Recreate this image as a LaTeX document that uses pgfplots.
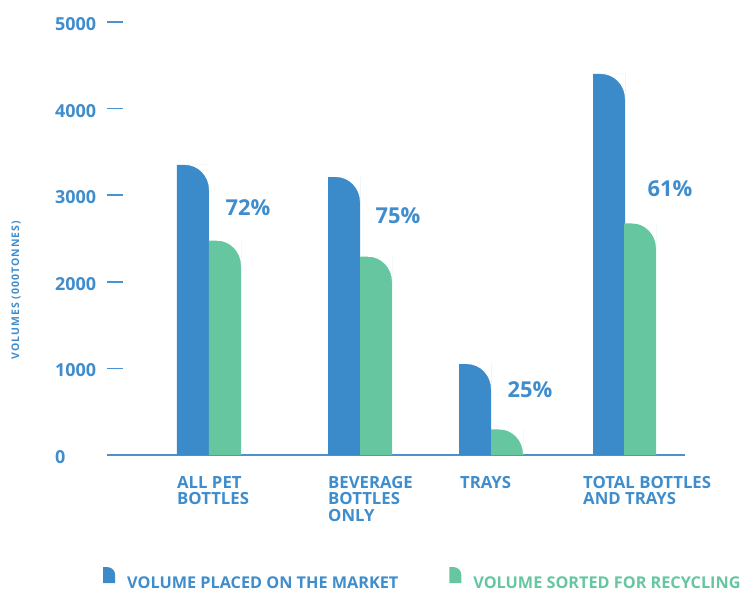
\documentclass[border=0pt]{standalone}
\usepackage{pgfplots}
\pgfplotsset{compat=1.18}
\usepackage{fontspec}
\setmainfont{Open Sans}
\definecolor{cblue}{HTML}{3B8BCA}
\definecolor{cgreen}{HTML}{66C6A0}
\definecolor{tblue}{HTML}{3F8DCC}
\definecolor{lblue}{HTML}{4A93D0}

% white mask that rounds the top-right corner of a 32bp wide bar (origin = top centre)
\pgfdeclareplotmark{cornermask}{%
  \pgfpathmoveto{\pgfpoint{-8bp}{0.6bp}}%
  \pgfpathlineto{\pgfpoint{16.4bp}{0.6bp}}%
  \pgfpathlineto{\pgfpoint{16.4bp}{-25bp}}%
  \pgfpathlineto{\pgfpoint{16bp}{-25bp}}%
  \pgfpatharc{0}{90}{24bp and 25bp}%
  \pgfpathclose
  \pgfusepathqfill
}

\begin{document}
\begin{tikzpicture}
\useasboundingbox (-107bp,-137bp) rectangle (637bp,455bp);
\begin{axis}[
  at={(0,0)}, anchor=south west,
  scale only axis, width=578bp, height=433bp,
  xmin=107, xmax=685, ymin=0, ymax=5000,
  clip=false,
  axis x line=bottom, axis y line=left,
  x axis line style={-, draw=lblue, line width=1.6bp},
  y axis line style={draw=none},
  xtick={177,328,460,583},
  xticklabels={{ALL PET\\BOTTLES},{BEVERAGE\\BOTTLES\\ONLY},{TRAYS},{TOTAL BOTTLES\\AND TRAYS}},
  xticklabel style={anchor=north west, align=left, font=\bfseries\fontsize{16.8}{16.5}\selectfont, text=tblue, inner sep=0pt, yshift=-13bp},
  x tick style={draw=none},
  ytick={0,1000,2000,3000,4000,5000},
  yticklabels={0,1000,2000,3000,4000,5000},
  ytick align=inside, major tick length=16bp,
  y tick style={draw=lblue, line width=1.6bp},
  yticklabel style={anchor=west, inner sep=0pt, xshift=-52bp, yshift=-2bp, font=\bfseries\fontsize{18}{20}\selectfont, text=tblue},
  ylabel={VOLUMES (000TONNES)},
  ylabel style={at={(axis description cs:-0.157,0.381)}, rotate=0, anchor=center, font=\bfseries\fontsize{10.5}{13}\selectfont\addfontfeatures{LetterSpace=10}, text=tblue},
  legend columns=2,
  legend style={at={(axis description cs:0,0)}, anchor=west, xshift=-7bp, yshift=-123bp, draw=none, fill=none,
    font=\bfseries\fontsize{16.3}{18}\selectfont, nodes={inner sep=0pt, text depth=0pt},
    /tikz/every odd column/.append style={column sep=12bp},
    /tikz/every even column/.append style={column sep=51bp}},
]
\addplot[ybar, bar width=32, bar shift=0pt, fill=cblue, draw=none,
  legend image code/.code={\fill[cblue] (0bp,0bp) -- (12bp,0bp) -- (12bp,8bp) arc[start angle=0,end angle=90,radius=8bp] -- (0bp,16bp) -- cycle;}]
  coordinates {(193,3350) (344,3210) (475,1050) (609,4400)};
\addlegendentry{\textcolor{tblue}{VOLUME PLACED ON THE MARKET}}
\addplot[ybar, bar width=32, bar shift=0pt, fill=cgreen, draw=none,
  legend image code/.code={\fill[cgreen] (0bp,0bp) -- (12bp,0bp) -- (12bp,8bp) arc[start angle=0,end angle=90,radius=8bp] -- (0bp,16bp) -- cycle;}]
  coordinates {(225,2475) (376,2290) (507,297) (640,2675)};
\addlegendentry{\textcolor{cgreen}{VOLUME SORTED FOR RECYCLING}}
\addplot[only marks, mark=cornermask, mark options={fill=white, draw=none}, forget plot]
  coordinates {(193,3350) (344,3210) (475,1050) (609,4400)};
\addplot[only marks, mark=cornermask, mark options={fill=white, draw=none}, forget plot]
  coordinates {(225,2475) (376,2290) (507,297) (640,2675)};
\node[text=tblue, font=\bfseries\fontsize{22}{26}\selectfont] at (axis cs:248,2856) {72\%};
\node[text=tblue, font=\bfseries\fontsize{22}{26}\selectfont] at (axis cs:398,2763) {75\%};
\node[text=tblue, font=\bfseries\fontsize{22}{26}\selectfont] at (axis cs:530,751) {25\%};
\node[text=tblue, font=\bfseries\fontsize{22}{26}\selectfont] at (axis cs:670,3072) {61\%};
\end{axis}
\end{tikzpicture}
\end{document}
